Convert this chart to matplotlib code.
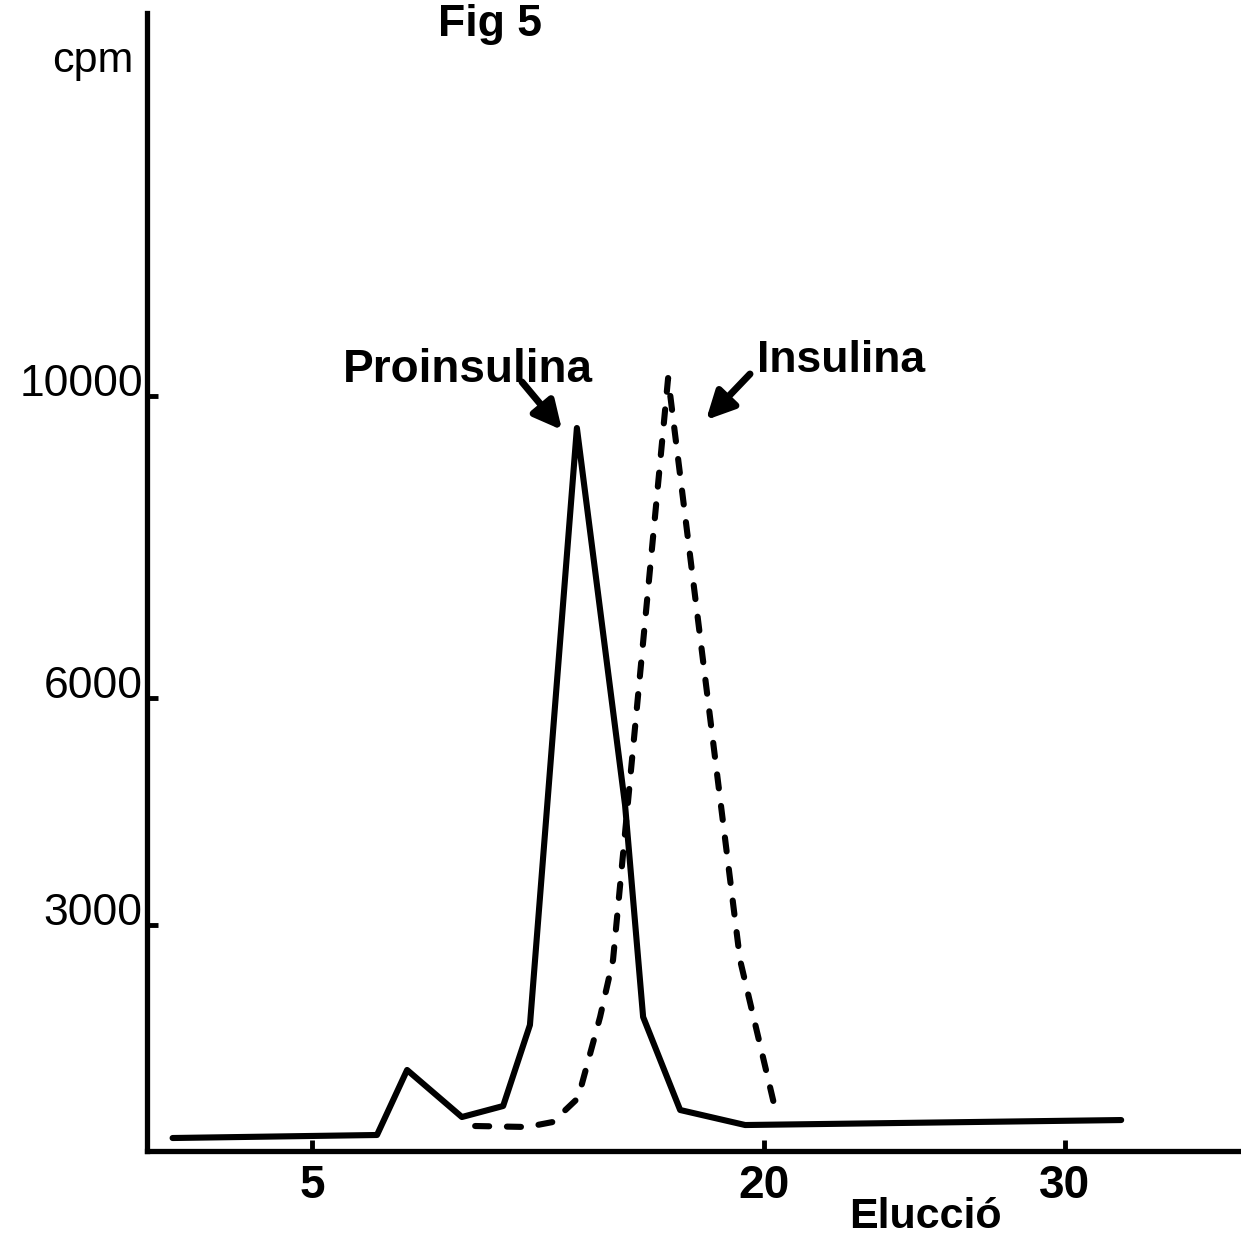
import matplotlib.pyplot as plt

plt.rcParams['font.family'] = ['Liberation Sans', 'DejaVu Sans']

# elution fraction vs counts (cpm)
pro_frac = [0.37, 7.16, 8.16, 9.98, 11.35, 12.24, 13.8, 15.4, 16.0, 17.23, 19.39, 31.88]
pro_cpm = [172, 212, 1073, 450, 596, 1669, 9576, 4583, 1775, 543, 344, 410]

ins_frac = [10.42, 12.14, 13.0, 13.84, 14.57, 15.0, 16.83, 19.22, 20.45]
ins_cpm = [331, 318, 384, 702, 1775, 2530, 10238, 2530, 450]

yticks = [3000, 6000, 10000]
xticks = [5, 20, 30]

W, H = 1241, 1235
fig = plt.figure(figsize=(W / 100, H / 100), dpi=100)
ax = fig.add_axes([147 / W, 1 - 1151 / H, 1 - 147 / W, (1151 - 13) / H])

ax.plot(pro_frac, pro_cpm, color='black', lw=4.4,
        solid_capstyle='round', solid_joinstyle='round')
ax.plot(ins_frac, ins_cpm, color='black', lw=4.4, dashes=(2.3, 2.9),
        dash_capstyle='round')

ax.set_xlim(-0.48, 35.86)
ax.set_ylim(0, 15073)

for side in ['top', 'right']:
    ax.spines[side].set_visible(False)
for side in ['left', 'bottom']:
    ax.spines[side].set_linewidth(3.8)

ax.set_xticks(xticks)
ax.set_yticks(yticks)
ax.set_yticklabels([str(v) for v in yticks])
ax.tick_params(axis='both', direction='in', width=3.5, length=8)
ax.tick_params(axis='x', pad=9, labelsize=33)
ax.tick_params(axis='y', pad=3, labelsize=32)
for lbl in ax.get_xticklabels():
    lbl.set_fontweight('bold')
for lbl in ax.get_yticklabels():
    lbl.set_va('baseline')


def fx(px):
    return px / W


def fy(py):
    return 1 - py / H


fig.text(fx(490), fy(36), 'Fig 5', fontsize=32, fontweight='bold',
         ha='center', va='baseline')
fig.text(fx(133), fy(72), 'cpm', fontsize=31, ha='right', va='baseline')
fig.text(fx(925), fy(1228), 'Elucció', fontsize=31, fontweight='bold',
         ha='center', va='baseline')

fig.text(fx(468), fy(382), 'Proinsulina', fontsize=33, fontweight='bold',
         ha='center', va='baseline')
fig.text(fx(841), fy(372), 'Insulina', fontsize=32, fontweight='bold',
         ha='center', va='baseline')

arrow = dict(arrowstyle='-|>', lw=5, color='black', mutation_scale=42,
             shrinkA=0, shrinkB=0)
ax.annotate('', xy=(fx(562), fy(430)), xytext=(fx(522), fy(382)),
            xycoords='figure fraction', textcoords='figure fraction',
            arrowprops=arrow)
ax.annotate('', xy=(fx(706), fy(420)), xytext=(fx(750), fy(374)),
            xycoords='figure fraction', textcoords='figure fraction',
            arrowprops=arrow)

fig.savefig('out.png', dpi=100)
